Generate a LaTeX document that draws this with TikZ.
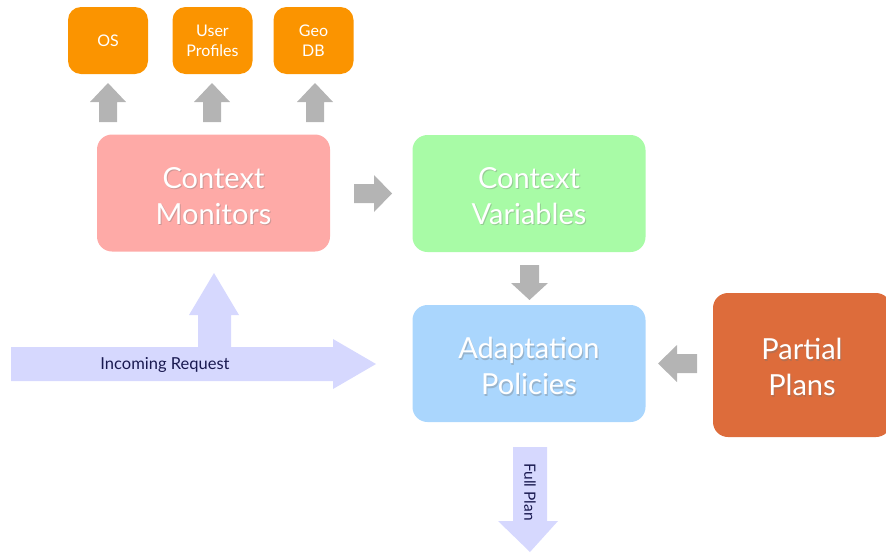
\documentclass[tikz,border=0pt]{standalone}
\usepackage{fontspec}
\setmainfont{Lato}
\definecolor{orangeA}{RGB}{251,148,0}
\definecolor{pinkbox}{RGB}{254,170,167}
\definecolor{greenbox}{RGB}{168,251,166}
\definecolor{bluebox}{RGB}{170,214,253}
\definecolor{partialc}{RGB}{221,108,59}
\definecolor{greyarrow}{RGB}{180,180,180}
\definecolor{lavender}{RGB}{214,216,254}
\definecolor{navytext}{RGB}{25,25,80}
\tikzset{
  box/.style={rounded corners=15pt, text=white, align=center, inner sep=0pt},
  smallbox/.style={box, fill=orangeA, minimum width=80pt, minimum height=67pt, rounded corners=13pt, font=\fontsize{16}{20}\selectfont},
  bigbox/.style={box, minimum width=233pt, minimum height=117pt},
  bigfont/.style={font=\fontsize{29}{36}\selectfont},
  shadowtxt/.style={text=black!55, opacity=0.35, align=center, inner sep=0pt, bigfont},
  bigtxt/.style={box, bigfont}
}
\begin{document}
\begin{tikzpicture}[x=1pt,y=-1pt]
\useasboundingbox (0,0) rectangle (886,552);
% small boxes
\node[smallbox] (os) at (108,40.5) {OS};
\node[smallbox] (up) at (212.5,40.5) {User\\Profiles};
\node[smallbox] (geo) at (313.5,40.5) {Geo\\DB};
% up arrows
\foreach \cx in {108,212,315}{
  \fill[greyarrow] (\cx-9,122) -- (\cx+9,122) -- (\cx+9,102) -- (\cx+18,102) -- (\cx,83) -- (\cx-18,102) -- (\cx-9,102) -- cycle;
}
% big boxes
\node[bigbox, fill=pinkbox] (cm) at (213.5,193) {};
\node[shadowtxt] at (214.5,197.5) {Context\\Monitors};
\node[bigtxt] (cmt) at (213.5,196) {Context\\Monitors};
\node[bigbox, fill=greenbox] (cv) at (529,193.5) {};
\node[shadowtxt] at (530,197.5) {Context\\Variables};
\node[bigtxt] (cvt) at (529,196) {Context\\Variables};
\node[bigbox, fill=bluebox] (ap) at (529,363.5) {};
\node[shadowtxt] at (530,367.5) {Adaptation\\Policies};
\node[bigtxt] (apt) at (529,366) {Adaptation\\Policies};
\node[box, fill=partialc, minimum width=178pt, minimum height=144pt] (pp) at (802,365) {};
\node[shadowtxt] at (803,368.5) {Partial\\Plans};
\node[bigtxt] (ppt) at (802,367) {Partial\\Plans};
% grey arrows
\fill[greyarrow] (354,184) -- (374,184) -- (374,175) -- (392,193.5) -- (374,212) -- (374,203) -- (354,203) -- cycle;
\fill[greyarrow] (520,265) -- (539,265) -- (539,283) -- (548,283) -- (529.5,300) -- (511,283) -- (520,283) -- cycle;
\fill[greyarrow] (697,354) -- (677,354) -- (677,345) -- (658,363.5) -- (677,382) -- (677,373) -- (697,373) -- cycle;
% incoming request
\fill[lavender] (11,347) -- (198,347) -- (198,315) -- (189,315) -- (214,273) -- (239,315) -- (231,315) -- (231,347) -- (333,347) -- (333,339) -- (376,364) -- (333,389) -- (333,381) -- (11,381) -- cycle;
\node[text=navytext, font=\fontsize{16.5}{18}\selectfont] (ir) at (165,365) {Incoming Request};
% full plan
\fill[lavender] (513,447) -- (547,447) -- (547,521) -- (558,521) -- (530,552) -- (498,521) -- (513,521) -- cycle;
\node[text=navytext, rotate=-90, font=\fontsize{15.5}{16}\selectfont] (fp) at (530,492) {Full Plan};
\end{tikzpicture}
\end{document}
